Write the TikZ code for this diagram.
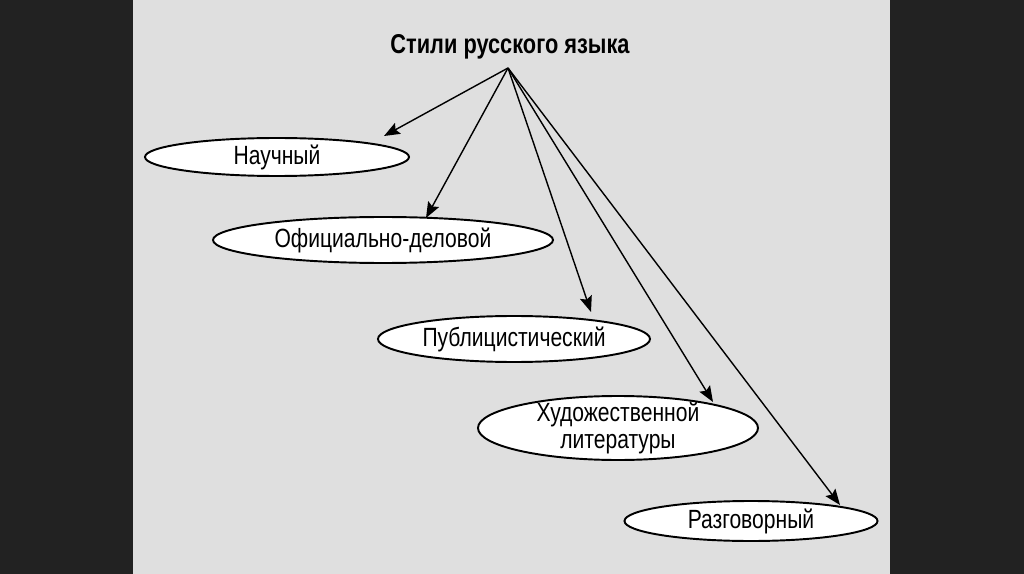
\documentclass[tikz,border=0pt]{standalone}
\usepackage{fontspec}
\setmainfont{Liberation Sans}[FakeStretch=0.8]
\usetikzlibrary{shapes.geometric,arrows.meta}
\definecolor{bgdark}{HTML}{222222}
\definecolor{bggray}{HTML}{DFDFDF}
\begin{document}
\begin{tikzpicture}[x=0.02cm,y=-0.02cm,
  oval/.style={ellipse,draw=black,line width=1.1pt,fill=white,inner sep=0pt,font=\fontsize{15pt}{17pt}\selectfont,align=center},
  arr/.style={line width=0.8pt,-{Stealth[length=9pt,width=7pt,inset=1.5pt]}}]
\useasboundingbox (0,0) rectangle (1024,574);
\fill[bgdark] (0,0) rectangle (1024,574);
\fill[bggray] (133,0) rectangle (890,574);
\node[font=\bfseries\fontsize{15.5pt}{18pt}\selectfont] (title) at (510,47) {Стили русского языка};
\coordinate (src) at (508,68);
\node[oval,minimum width=264*0.02cm,minimum height=38*0.02cm] (n1) at (277,157) {Научный};
\node[oval,minimum width=340*0.02cm,minimum height=46*0.02cm] (n2) at (383,240) {Официально-деловой};
\node[oval,minimum width=272*0.02cm,minimum height=46*0.02cm] (n3) at (514,339) {Публицистический};
\node[oval,inner sep=-3pt,minimum width=280*0.02cm,minimum height=64*0.02cm] (n4) at (618,428) {Художественной\\[-1.5pt]литературы};
\node[oval,minimum width=253*0.02cm,minimum height=40*0.02cm] (n5) at (751,521) {Разговорный};
\coordinate (t1) at (384,136);
\coordinate (t2) at (426,218);
\coordinate (t3) at (591,312);
\coordinate (t4) at (713,402);
\coordinate (t5) at (840,505);
\foreach \t in {t1,t2,t3,t4,t5} \draw[arr] (src) -- (\t);
\end{tikzpicture}
\end{document}
